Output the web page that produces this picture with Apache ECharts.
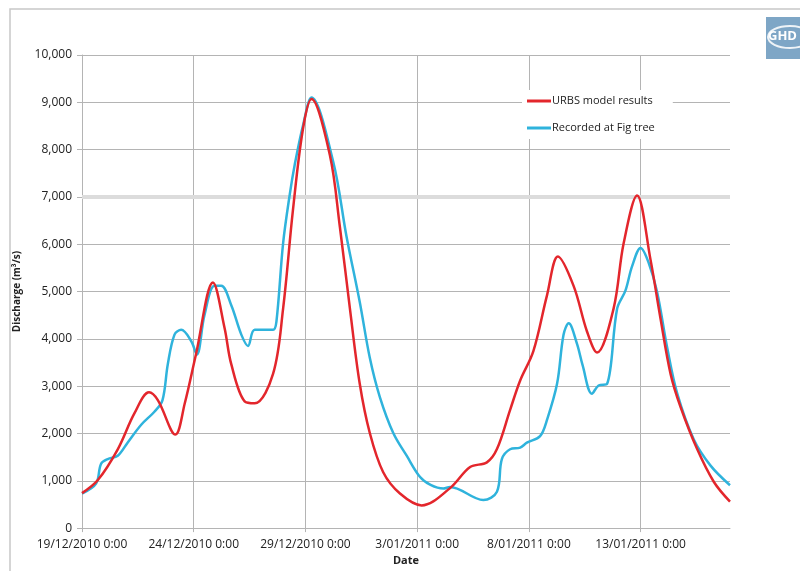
<!DOCTYPE html>
<html>
<head>
<meta charset="utf-8">
<script src="https://cdn.jsdelivr.net/npm/echarts@6/dist/echarts.min.js"></script>
<style>
  html, body { margin: 0; padding: 0; background: #fff; }
  #chart { width: 800px; height: 571px; }
</style>
</head>
<body>
<div id="chart"></div>
<script>
// x = days after 19/12/2010 0:00
const startDate = [2010, 11, 19];
const xTicks = [0, 5, 10, 15, 20, 25];

const urbsDays = [0, 0.7, 1.6, 2.35, 3.0, 3.4, 4.18, 4.6, 5.1, 5.86, 6.38, 6.68, 7.28, 7.73, 8.55, 9.0, 9.44, 9.89, 10.27, 11.09, 11.54, 11.99, 12.43, 12.88, 13.48, 14.23, 15.2, 16.46, 17.37, 18.12, 18.57, 19.16, 19.61, 20.2, 20.81, 21.3, 22.0, 22.6, 23.05, 23.79, 24.24, 24.84, 25.44, 25.89, 26.34, 26.78, 27.53, 28.28, 29.0];
const urbsFlow = [740, 1010, 1666, 2430, 2870, 2700, 1977, 2640, 3670, 5190, 4230, 3465, 2680, 2640, 3260, 4640, 6720, 8440, 9070, 7890, 6370, 4640, 3050, 2010, 1180, 730, 480, 840, 1290, 1390, 1670, 2500, 3120, 3740, 4920, 5740, 5120, 4156, 3710, 4640, 6020, 7030, 5680, 4430, 3260, 2570, 1670, 975, 560];

const figDays = [0, 0.63, 0.85, 1.15, 1.6, 2.04, 2.65, 3.24, 3.6, 3.84, 4.14, 4.44, 4.89, 5.14, 5.48, 5.93, 6.23, 6.68, 7.13, 7.43, 7.73, 8.55, 8.7, 9.0, 9.3, 9.52, 9.89, 10.27, 11.24, 11.84, 12.43, 12.88, 13.33, 13.93, 14.53, 15.13, 15.6, 16.17, 16.47, 17.96, 18.57, 18.79, 19.16, 19.61, 19.91, 20.5, 20.81, 21.26, 21.55, 21.78, 22.15, 22.4, 22.82, 23.12, 23.5, 23.95, 24.32, 24.62, 25.0, 25.36, 25.74, 26.19, 26.64, 27.38, 28.13, 29.0];
const figFlow = [730, 940, 1355, 1460, 1530, 1805, 2185, 2460, 2700, 3465, 4090, 4190, 3950, 3670, 4500, 5120, 5120, 4710, 4090, 3850, 4190, 4190, 4360, 6020, 7060, 7680, 8510, 9100, 7750, 6160, 4780, 3600, 2770, 2010, 1530, 1080, 913, 836, 871, 595, 768, 1459, 1666, 1701, 1805, 1944, 2288, 3050, 4087, 4330, 3900, 3450, 2842, 3015, 3050, 4641, 5021, 5539, 5920, 5608, 4985, 3811, 2842, 1873, 1321, 906];

const pair = (xs, ys) => xs.map((x, i) => [x, ys[i]]);

function dayLabel(v) {
  if (xTicks.indexOf(v) < 0) return '';
  const d = new Date(startDate[0], startDate[1], startDate[2] + v);
  const mm = String(d.getMonth() + 1).padStart(2, '0');
  return d.getDate() + '/' + mm + '/' + d.getFullYear() + ' 0:00';
}

const chart = echarts.init(document.getElementById('chart'));
const gridColor = '#b4b4b4';
const textColor = '#222';

chart.setOption({
  backgroundColor: '#fff',
  animation: false,
  textStyle: { fontFamily: 'Open Sans' },
  graphic: [
    { type: 'rect', shape: { x: 10, y: 9, width: 820, height: 620 }, style: { fill: 'none', stroke: '#c8c8c8', lineWidth: 1.5 }, z: -1 },
    { type: 'rect', shape: { x: 766, y: 17, width: 40, height: 42 }, style: { fill: '#7ea6c6' } },
    { type: 'ellipse', shape: { cx: 790, cy: 37, rx: 22, ry: 11 }, style: { fill: 'none', stroke: '#eef3f7', lineWidth: 2 } },
    { type: 'text', x: 768, y: 30, style: { text: 'GHD', fill: '#fff', font: 'bold 13px Open Sans' } }
  ],
  grid: { left: 82, right: 70, top: 55, bottom: 34, containLabel: false },
  legend: {
    orient: 'vertical',
    left: 522,
    top: 90,
    backgroundColor: '#fff',
    padding: [4, 18, 4, 5],
    itemGap: 13,
    itemWidth: 24,
    itemHeight: 3,
    icon: 'rect',
    textStyle: { fontSize: 11, lineHeight: 14, color: textColor, padding: [0, 0, 0, -4] },
    data: ['URBS model results', 'Recorded at Fig tree']
  },
  xAxis: {
    type: 'value',
    min: 0,
    max: 29,
    interval: 5,
    name: 'Date',
    nameLocation: 'middle',
    nameGap: 24,
    nameTextStyle: { fontSize: 11, fontWeight: 'bold', color: textColor },
    axisLine: { lineStyle: { color: gridColor } },
    axisTick: { show: true, length: 4, lineStyle: { color: gridColor } },
    axisLabel: { formatter: dayLabel, fontSize: 12, color: textColor, margin: 10, showMaxLabel: false },
    splitLine: { show: true, showMaxLine: false, lineStyle: { color: gridColor } }
  },
  yAxis: {
    type: 'value',
    min: 0,
    max: 10000,
    interval: 1000,
    name: 'Discharge (m³/s)',
    nameLocation: 'middle',
    nameGap: 60,
    nameTextStyle: { fontSize: 10, fontWeight: 'bold', color: textColor },
    axisLine: { show: true, lineStyle: { color: gridColor } },
    axisTick: { show: true, length: 5, lineStyle: { color: gridColor } },
    axisLabel: {
      fontSize: 12, color: textColor, margin: 10,
      formatter: v => v.toLocaleString('en-US')
    },
    splitLine: { lineStyle: { color: gridColor } }
  },
  series: [
    {
      name: 'URBS model results',
      type: 'line',
      data: pair(urbsDays, urbsFlow),
      smooth: 0.35,
      symbol: 'none',
      color: '#e3262c',
      lineStyle: { width: 2.5 },
      z: 3,
      markLine: {
        silent: true,
        symbol: 'none',
        label: { show: false },
        lineStyle: { color: '#dcdcdc', width: 4, type: 'solid' },
        data: [{ yAxis: 7000 }],
        z: 1
      }
    },
    {
      name: 'Recorded at Fig tree',
      type: 'line',
      data: pair(figDays, figFlow),
      smooth: 0.35,
      symbol: 'none',
      color: '#2fb3dc',
      lineStyle: { width: 2.5 },
      z: 2
    }
  ]
});
</script>
</body>
</html>
